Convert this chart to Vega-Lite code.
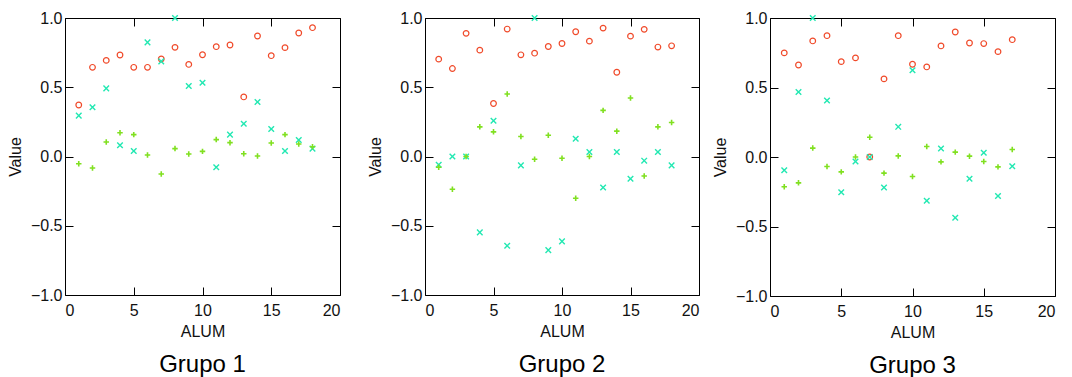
{
  "$schema": "https://vega.github.io/schema/vega-lite/v6.json",
  "padding": {"left": 6, "top": 9, "right": 0, "bottom": 0},
  "config": {
    "font": "Liberation Sans",
    "view": {"stroke": "#000", "strokeWidth": 1},
    "axis": {"labelFont": "Liberation Sans", "titleFont": "Liberation Sans", "labelColor": "#111", "titleColor": "#111", "grid": false, "ticks": true, "tickColor": "#000", "tickWidth": 1, "labelFontSize": 16, "titleFontSize": 16, "titleFontWeight": "normal"},
    "title": {"font": "Liberation Sans", "fontSize": 24, "fontWeight": "normal", "color": "#000", "orient": "bottom", "offset": 14}
  },
  "datasets": {
    "d": [
      {"g": 1, "alum": 1, "serie": "a", "value": 0.372},
      {"g": 1, "alum": 2, "serie": "a", "value": 0.644},
      {"g": 1, "alum": 3, "serie": "a", "value": 0.694},
      {"g": 1, "alum": 4, "serie": "a", "value": 0.733},
      {"g": 1, "alum": 5, "serie": "a", "value": 0.644},
      {"g": 1, "alum": 6, "serie": "a", "value": 0.644},
      {"g": 1, "alum": 7, "serie": "a", "value": 0.704},
      {"g": 1, "alum": 8, "serie": "a", "value": 0.788},
      {"g": 1, "alum": 9, "serie": "a", "value": 0.665},
      {"g": 1, "alum": 10, "serie": "a", "value": 0.735},
      {"g": 1, "alum": 11, "serie": "a", "value": 0.793},
      {"g": 1, "alum": 12, "serie": "a", "value": 0.805},
      {"g": 1, "alum": 13, "serie": "a", "value": 0.43},
      {"g": 1, "alum": 14, "serie": "a", "value": 0.87},
      {"g": 1, "alum": 15, "serie": "a", "value": 0.728},
      {"g": 1, "alum": 16, "serie": "a", "value": 0.786},
      {"g": 1, "alum": 17, "serie": "a", "value": 0.892},
      {"g": 1, "alum": 18, "serie": "a", "value": 0.93},
      {"g": 1, "alum": 1, "serie": "b", "value": 0.295},
      {"g": 1, "alum": 2, "serie": "b", "value": 0.355},
      {"g": 1, "alum": 3, "serie": "b", "value": 0.492},
      {"g": 1, "alum": 4, "serie": "b", "value": 0.081},
      {"g": 1, "alum": 5, "serie": "b", "value": 0.04},
      {"g": 1, "alum": 6, "serie": "b", "value": 0.824},
      {"g": 1, "alum": 7, "serie": "b", "value": 0.687},
      {"g": 1, "alum": 8, "serie": "b", "value": 1.0},
      {"g": 1, "alum": 9, "serie": "b", "value": 0.509},
      {"g": 1, "alum": 10, "serie": "b", "value": 0.533},
      {"g": 1, "alum": 11, "serie": "b", "value": -0.078},
      {"g": 1, "alum": 12, "serie": "b", "value": 0.158},
      {"g": 1, "alum": 13, "serie": "b", "value": 0.237},
      {"g": 1, "alum": 14, "serie": "b", "value": 0.394},
      {"g": 1, "alum": 15, "serie": "b", "value": 0.199},
      {"g": 1, "alum": 16, "serie": "b", "value": 0.04},
      {"g": 1, "alum": 17, "serie": "b", "value": 0.119},
      {"g": 1, "alum": 18, "serie": "b", "value": 0.057},
      {"g": 1, "alum": 1, "serie": "c", "value": -0.052},
      {"g": 1, "alum": 2, "serie": "c", "value": -0.083},
      {"g": 1, "alum": 3, "serie": "c", "value": 0.105},
      {"g": 1, "alum": 4, "serie": "c", "value": 0.172},
      {"g": 1, "alum": 5, "serie": "c", "value": 0.158},
      {"g": 1, "alum": 6, "serie": "c", "value": 0.011},
      {"g": 1, "alum": 7, "serie": "c", "value": -0.126},
      {"g": 1, "alum": 8, "serie": "c", "value": 0.057},
      {"g": 1, "alum": 9, "serie": "c", "value": 0.018},
      {"g": 1, "alum": 10, "serie": "c", "value": 0.037},
      {"g": 1, "alum": 11, "serie": "c", "value": 0.122},
      {"g": 1, "alum": 12, "serie": "c", "value": 0.1},
      {"g": 1, "alum": 13, "serie": "c", "value": 0.02},
      {"g": 1, "alum": 14, "serie": "c", "value": 0.004},
      {"g": 1, "alum": 15, "serie": "c", "value": 0.097},
      {"g": 1, "alum": 16, "serie": "c", "value": 0.158},
      {"g": 1, "alum": 17, "serie": "c", "value": 0.09},
      {"g": 1, "alum": 18, "serie": "c", "value": 0.07},
      {"g": 2, "alum": 1, "serie": "a", "value": 0.703},
      {"g": 2, "alum": 2, "serie": "a", "value": 0.635},
      {"g": 2, "alum": 3, "serie": "a", "value": 0.889},
      {"g": 2, "alum": 4, "serie": "a", "value": 0.768},
      {"g": 2, "alum": 5, "serie": "a", "value": 0.383},
      {"g": 2, "alum": 6, "serie": "a", "value": 0.92},
      {"g": 2, "alum": 7, "serie": "a", "value": 0.734},
      {"g": 2, "alum": 8, "serie": "a", "value": 0.746},
      {"g": 2, "alum": 9, "serie": "a", "value": 0.794},
      {"g": 2, "alum": 10, "serie": "a", "value": 0.816},
      {"g": 2, "alum": 11, "serie": "a", "value": 0.901},
      {"g": 2, "alum": 12, "serie": "a", "value": 0.833},
      {"g": 2, "alum": 13, "serie": "a", "value": 0.927},
      {"g": 2, "alum": 14, "serie": "a", "value": 0.608},
      {"g": 2, "alum": 15, "serie": "a", "value": 0.869},
      {"g": 2, "alum": 16, "serie": "a", "value": 0.918},
      {"g": 2, "alum": 17, "serie": "a", "value": 0.79},
      {"g": 2, "alum": 18, "serie": "a", "value": 0.799},
      {"g": 2, "alum": 1, "serie": "b", "value": -0.059},
      {"g": 2, "alum": 2, "serie": "b", "value": 0.0},
      {"g": 2, "alum": 3, "serie": "b", "value": 0.0},
      {"g": 2, "alum": 4, "serie": "b", "value": -0.548},
      {"g": 2, "alum": 5, "serie": "b", "value": 0.258},
      {"g": 2, "alum": 6, "serie": "b", "value": -0.645},
      {"g": 2, "alum": 7, "serie": "b", "value": -0.064},
      {"g": 2, "alum": 8, "serie": "b", "value": 1.0},
      {"g": 2, "alum": 9, "serie": "b", "value": -0.676},
      {"g": 2, "alum": 10, "serie": "b", "value": -0.613},
      {"g": 2, "alum": 11, "serie": "b", "value": 0.128},
      {"g": 2, "alum": 12, "serie": "b", "value": 0.033},
      {"g": 2, "alum": 13, "serie": "b", "value": -0.224},
      {"g": 2, "alum": 14, "serie": "b", "value": 0.033},
      {"g": 2, "alum": 15, "serie": "b", "value": -0.161},
      {"g": 2, "alum": 16, "serie": "b", "value": -0.03},
      {"g": 2, "alum": 17, "serie": "b", "value": 0.033},
      {"g": 2, "alum": 18, "serie": "b", "value": -0.064},
      {"g": 2, "alum": 1, "serie": "c", "value": -0.078},
      {"g": 2, "alum": 2, "serie": "c", "value": -0.236},
      {"g": 2, "alum": 3, "serie": "c", "value": 0.0},
      {"g": 2, "alum": 4, "serie": "c", "value": 0.214},
      {"g": 2, "alum": 5, "serie": "c", "value": 0.178},
      {"g": 2, "alum": 6, "serie": "c", "value": 0.451},
      {"g": 2, "alum": 7, "serie": "c", "value": 0.144},
      {"g": 2, "alum": 8, "serie": "c", "value": -0.02},
      {"g": 2, "alum": 9, "serie": "c", "value": 0.153},
      {"g": 2, "alum": 10, "serie": "c", "value": -0.013},
      {"g": 2, "alum": 11, "serie": "c", "value": -0.301},
      {"g": 2, "alum": 12, "serie": "c", "value": 0.0},
      {"g": 2, "alum": 13, "serie": "c", "value": 0.333},
      {"g": 2, "alum": 14, "serie": "c", "value": 0.183},
      {"g": 2, "alum": 15, "serie": "c", "value": 0.422},
      {"g": 2, "alum": 16, "serie": "c", "value": -0.141},
      {"g": 2, "alum": 17, "serie": "c", "value": 0.214},
      {"g": 2, "alum": 18, "serie": "c", "value": 0.245},
      {"g": 3, "alum": 1, "serie": "a", "value": 0.749},
      {"g": 3, "alum": 2, "serie": "a", "value": 0.662},
      {"g": 3, "alum": 3, "serie": "a", "value": 0.835},
      {"g": 3, "alum": 4, "serie": "a", "value": 0.873},
      {"g": 3, "alum": 5, "serie": "a", "value": 0.686},
      {"g": 3, "alum": 6, "serie": "a", "value": 0.713},
      {"g": 3, "alum": 7, "serie": "a", "value": 0.0},
      {"g": 3, "alum": 8, "serie": "a", "value": 0.562},
      {"g": 3, "alum": 9, "serie": "a", "value": 0.873},
      {"g": 3, "alum": 10, "serie": "a", "value": 0.667},
      {"g": 3, "alum": 11, "serie": "a", "value": 0.648},
      {"g": 3, "alum": 12, "serie": "a", "value": 0.799},
      {"g": 3, "alum": 13, "serie": "a", "value": 0.899},
      {"g": 3, "alum": 14, "serie": "a", "value": 0.82},
      {"g": 3, "alum": 15, "serie": "a", "value": 0.816},
      {"g": 3, "alum": 16, "serie": "a", "value": 0.758},
      {"g": 3, "alum": 17, "serie": "a", "value": 0.844},
      {"g": 3, "alum": 1, "serie": "b", "value": -0.095},
      {"g": 3, "alum": 2, "serie": "b", "value": 0.468},
      {"g": 3, "alum": 3, "serie": "b", "value": 1.0},
      {"g": 3, "alum": 4, "serie": "b", "value": 0.406},
      {"g": 3, "alum": 5, "serie": "b", "value": -0.253},
      {"g": 3, "alum": 6, "serie": "b", "value": -0.032},
      {"g": 3, "alum": 7, "serie": "b", "value": 0.0},
      {"g": 3, "alum": 8, "serie": "b", "value": -0.219},
      {"g": 3, "alum": 9, "serie": "b", "value": 0.217},
      {"g": 3, "alum": 10, "serie": "b", "value": 0.624},
      {"g": 3, "alum": 11, "serie": "b", "value": -0.315},
      {"g": 3, "alum": 12, "serie": "b", "value": 0.061},
      {"g": 3, "alum": 13, "serie": "b", "value": -0.437},
      {"g": 3, "alum": 14, "serie": "b", "value": -0.157},
      {"g": 3, "alum": 15, "serie": "b", "value": 0.03},
      {"g": 3, "alum": 16, "serie": "b", "value": -0.281},
      {"g": 3, "alum": 17, "serie": "b", "value": -0.066},
      {"g": 3, "alum": 1, "serie": "c", "value": -0.214},
      {"g": 3, "alum": 2, "serie": "c", "value": -0.186},
      {"g": 3, "alum": 3, "serie": "c", "value": 0.064},
      {"g": 3, "alum": 4, "serie": "c", "value": -0.068},
      {"g": 3, "alum": 5, "serie": "c", "value": -0.107},
      {"g": 3, "alum": 6, "serie": "c", "value": 0.0},
      {"g": 3, "alum": 7, "serie": "c", "value": 0.142},
      {"g": 3, "alum": 8, "serie": "c", "value": -0.116},
      {"g": 3, "alum": 9, "serie": "c", "value": 0.008},
      {"g": 3, "alum": 10, "serie": "c", "value": -0.14},
      {"g": 3, "alum": 11, "serie": "c", "value": 0.076},
      {"g": 3, "alum": 12, "serie": "c", "value": -0.035},
      {"g": 3, "alum": 13, "serie": "c", "value": 0.035},
      {"g": 3, "alum": 14, "serie": "c", "value": 0.006},
      {"g": 3, "alum": 15, "serie": "c", "value": -0.032},
      {"g": 3, "alum": 16, "serie": "c", "value": -0.071},
      {"g": 3, "alum": 17, "serie": "c", "value": 0.054}
    ]
  },
  "hconcat": [
    {
      "hconcat": [
        {
          "width": 275, "height": 277,
          "title": {"text": "Grupo 1"},
          "data": {"name": "d"},
          "transform": [{"filter": "datum.g == 1"}],
          "layer": [
            {
              "mark": {"type": "point", "filled": false, "opacity": 1},
              "encoding": {
                "x": {"field": "alum", "type": "quantitative", "scale": {"domain": [0, 20], "nice": false}, "axis": {"orient": "bottom", "values": [0, 5, 10, 15, 20], "format": "d", "title": "ALUM", "domain": false, "offset": -8, "tickSize": 8, "labelPadding": 7, "titlePadding": 5}},
                "y": {"field": "value", "type": "quantitative", "scale": {"domain": [-1, 1], "nice": false}, "axis": {"orient": "left", "values": [-1, -0.5, 0, 0.5, 1], "format": ".1f", "title": "Value", "domain": false, "offset": -8, "tickSize": 8, "labelPadding": 3, "titlePadding": 7}},
                "color": {"field": "serie", "type": "nominal", "scale": {"domain": ["a", "b", "c"], "range": ["#f04a2a", "#22e8b2", "#80e020"]}, "legend": null},
                "shape": {"field": "serie", "type": "nominal", "scale": {"domain": ["a", "b", "c"], "range": ["circle", "M-1,-1L1,1M-1,1L1,-1", "M-1,0L1,0M0,-1L0,1"]}, "legend": null},
                "size": {"field": "serie", "type": "nominal", "scale": {"domain": ["a", "b", "c"], "range": [32, 30, 72]}, "legend": null},
                "strokeWidth": {"field": "serie", "type": "nominal", "scale": {"domain": ["a", "b", "c"], "range": [1.2, 1.6, 1.8]}, "legend": null}
              }
            },
            {
              "mark": {"type": "point", "opacity": 0, "size": 20},
              "encoding": {
                "x": {"field": "alum", "type": "quantitative", "axis": {"orient": "top", "values": [0, 5, 10, 15, 20], "labels": false, "domain": false, "title": null, "offset": -8, "tickSize": 8}},
                "y": {"field": "value", "type": "quantitative", "axis": {"orient": "right", "values": [-1, -0.5, 0, 0.5, 1], "labels": false, "domain": false, "title": null, "offset": -8, "tickSize": 8}}
              }
            }
          ],
          "resolve": {"axis": {"x": "independent", "y": "independent"}}
        },
        {
          "width": 274, "height": 277,
          "title": {"text": "Grupo 2"},
          "data": {"name": "d"},
          "transform": [{"filter": "datum.g == 2"}],
          "layer": [
            {
              "mark": {"type": "point", "filled": false, "opacity": 1},
              "encoding": {
                "x": {"field": "alum", "type": "quantitative", "scale": {"domain": [0, 20], "nice": false}, "axis": {"orient": "bottom", "values": [0, 5, 10, 15, 20], "format": "d", "title": "ALUM", "domain": false, "offset": -8, "tickSize": 8, "labelPadding": 7, "titlePadding": 5}},
                "y": {"field": "value", "type": "quantitative", "scale": {"domain": [-1, 1], "nice": false}, "axis": {"orient": "left", "values": [-1, -0.5, 0, 0.5, 1], "format": ".1f", "title": "Value", "domain": false, "offset": -8, "tickSize": 8, "labelPadding": 3, "titlePadding": 7}},
                "color": {"field": "serie", "type": "nominal", "scale": {"domain": ["a", "b", "c"], "range": ["#f04a2a", "#22e8b2", "#80e020"]}, "legend": null},
                "shape": {"field": "serie", "type": "nominal", "scale": {"domain": ["a", "b", "c"], "range": ["circle", "M-1,-1L1,1M-1,1L1,-1", "M-1,0L1,0M0,-1L0,1"]}, "legend": null},
                "size": {"field": "serie", "type": "nominal", "scale": {"domain": ["a", "b", "c"], "range": [32, 30, 72]}, "legend": null},
                "strokeWidth": {"field": "serie", "type": "nominal", "scale": {"domain": ["a", "b", "c"], "range": [1.2, 1.6, 1.8]}, "legend": null}
              }
            },
            {
              "mark": {"type": "point", "opacity": 0, "size": 20},
              "encoding": {
                "x": {"field": "alum", "type": "quantitative", "axis": {"orient": "top", "values": [0, 5, 10, 15, 20], "labels": false, "domain": false, "title": null, "offset": -8, "tickSize": 8}},
                "y": {"field": "value", "type": "quantitative", "axis": {"orient": "right", "values": [-1, -0.5, 0, 0.5, 1], "labels": false, "domain": false, "title": null, "offset": -8, "tickSize": 8}}
              }
            }
          ],
          "resolve": {"axis": {"x": "independent", "y": "independent"}}
        }
      ],
      "spacing": 25
    },
    {
      "width": 285, "height": 278,
      "title": {"text": "Grupo 3"},
      "data": {"name": "d"},
      "transform": [{"filter": "datum.g == 3"}],
      "layer": [
        {
          "mark": {"type": "point", "filled": false, "opacity": 1},
          "encoding": {
            "x": {"field": "alum", "type": "quantitative", "scale": {"domain": [0, 20], "nice": false}, "axis": {"orient": "bottom", "values": [0, 5, 10, 15, 20], "format": "d", "title": "ALUM", "domain": false, "offset": -8, "tickSize": 8, "labelPadding": 7, "titlePadding": 5}},
            "y": {"field": "value", "type": "quantitative", "scale": {"domain": [-1, 1], "nice": false}, "axis": {"orient": "left", "values": [-1, -0.5, 0, 0.5, 1], "format": ".1f", "title": "Value", "domain": false, "offset": -8, "tickSize": 8, "labelPadding": 3, "titlePadding": 7}},
            "color": {"field": "serie", "type": "nominal", "scale": {"domain": ["a", "b", "c"], "range": ["#f04a2a", "#22e8b2", "#80e020"]}, "legend": null},
            "shape": {"field": "serie", "type": "nominal", "scale": {"domain": ["a", "b", "c"], "range": ["circle", "M-1,-1L1,1M-1,1L1,-1", "M-1,0L1,0M0,-1L0,1"]}, "legend": null},
            "size": {"field": "serie", "type": "nominal", "scale": {"domain": ["a", "b", "c"], "range": [32, 30, 72]}, "legend": null},
            "strokeWidth": {"field": "serie", "type": "nominal", "scale": {"domain": ["a", "b", "c"], "range": [1.2, 1.6, 1.8]}, "legend": null}
          }
        },
        {
          "mark": {"type": "point", "opacity": 0, "size": 20},
          "encoding": {
            "x": {"field": "alum", "type": "quantitative", "axis": {"orient": "top", "values": [0, 5, 10, 15, 20], "labels": false, "domain": false, "title": null, "offset": -8, "tickSize": 8}},
            "y": {"field": "value", "type": "quantitative", "axis": {"orient": "right", "values": [-1, -0.5, 0, 0.5, 1], "labels": false, "domain": false, "title": null, "offset": -8, "tickSize": 8}}
          }
        }
      ],
      "resolve": {"axis": {"x": "independent", "y": "independent"}}
    }
  ],
  "spacing": 11
}
